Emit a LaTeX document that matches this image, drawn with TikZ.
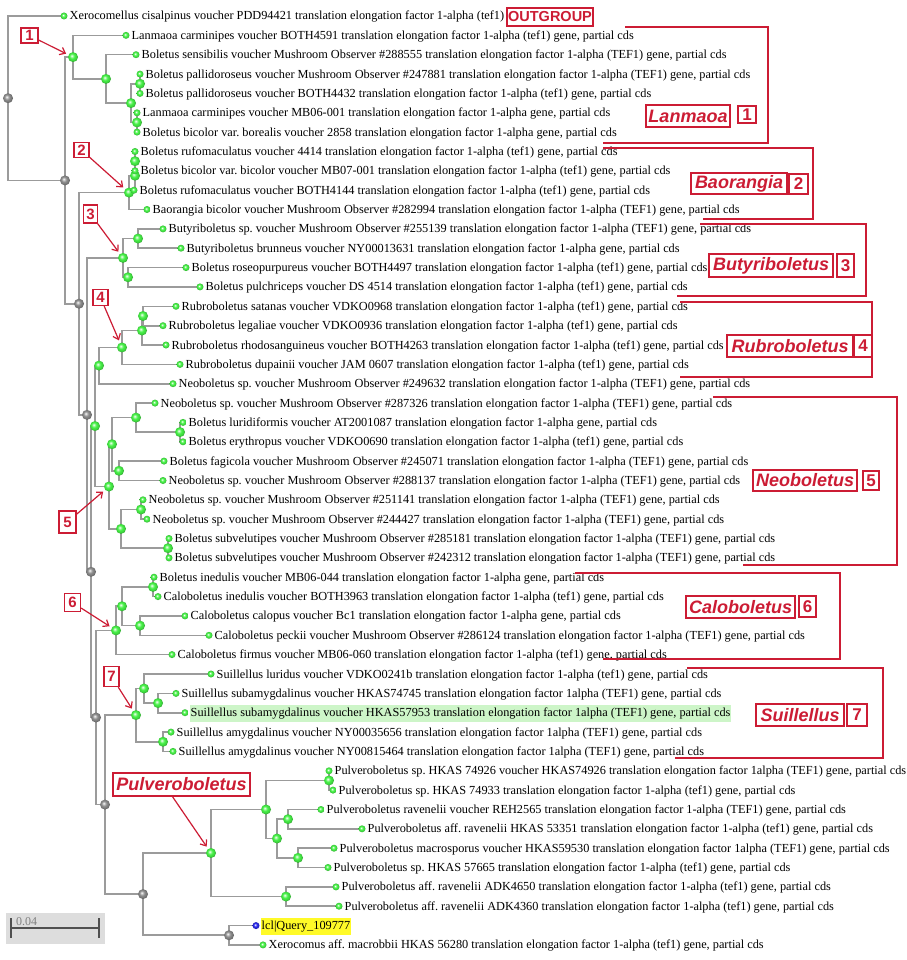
\documentclass[tikz,border=0pt]{standalone}
\usepackage{fontspec}
\setmainfont{Liberation Serif}
\newfontfamily\annfont{Liberation Sans}
\usetikzlibrary{arrows.meta,backgrounds}
\frenchspacing
\definecolor{annred}{RGB}{204,28,52}
\definecolor{brgray}{RGB}{155,155,155}
\definecolor{dotgreen}{RGB}{70,240,70}
\definecolor{dotgray}{RGB}{140,140,140}
\definecolor{hlgreen}{RGB}{205,245,200}
\definecolor{hlyellow}{RGB}{255,250,40}
\definecolor{qblue}{RGB}{40,40,235}
\definecolor{scalebg}{RGB}{221,221,221}
\definecolor{scalebar}{RGB}{80,80,80}
\pgfdeclareradialshading{gball}{\pgfpoint{-7bp}{7bp}}{color(0bp)=(white); color(6bp)=(dotgreen!55!white); color(13bp)=(dotgreen); color(21bp)=(dotgreen!88!black); color(25bp)=(dotgreen!72!black); color(50bp)=(dotgreen!72!black)}
\pgfdeclareradialshading{grball}{\pgfpoint{-7bp}{7bp}}{color(0bp)=(white); color(6bp)=(dotgray!55!white); color(13bp)=(dotgray); color(21bp)=(dotgray!85!black); color(25bp)=(dotgray!70!black); color(50bp)=(dotgray!70!black)}
\pgfdeclareradialshading{bball}{\pgfpoint{-7bp}{7bp}}{color(0bp)=(white); color(6bp)=(qblue!55!white); color(13bp)=(qblue); color(21bp)=(qblue!85!black); color(25bp)=(qblue!70!black); color(50bp)=(qblue!70!black)}
\tikzset{
  br/.style={draw=brgray, line width=1.6pt},
  lf/.style={circle, inner sep=0pt, minimum size=7pt, shading=gball},
  inn/.style={circle, inner sep=0pt, minimum size=10pt, shading=gball},
  gry/.style={circle, inner sep=0pt, minimum size=10pt, shading=grball},
  lab/.style={anchor=base west, inner sep=0pt, font=\fontsize{12.3}{14}\selectfont},
  hl/.style={inner xsep=1pt, inner ysep=2.5pt, text height=9pt, text depth=3pt},
  annbox/.style={draw=annred, line width=1.3pt, text=annred, inner sep=0pt},
  genus/.style={annbox, font=\annfont\bfseries\itshape\fontsize{18}{18}\selectfont},
  numb/.style={annbox, font=\annfont\bfseries\fontsize{17}{17}\selectfont},
  tnum/.style={annbox, font=\annfont\bfseries\fontsize{15}{15}\selectfont},
  annline/.style={draw=annred, line width=1.3pt},
  annarrow/.style={draw=annred, line width=1.2pt, -{Straight Barb[length=5pt,width=8pt]}, shorten >=2.5pt}
}
\newcommand\mkleaf[4]{\node[lf] (#1) at (#2,#3) {}; \node[lab] (t#1) at (#2+5.5,#3+4) {#4};}
\begin{document}
\begin{tikzpicture}[x=1pt,y=-1pt]
\useasboundingbox (0,0) rectangle (906,960);
% internal nodes
\foreach \n/\x/\y in {r/8/98.2, g1/65/180.4, g2/79/303.7, g3/87/414.85, g4/91/571.8, g5/96/717.5, g6/105/804.6, g7/143/894.1, g8/229/935.25}
  \node[gry] (\n) at (\x,\y) {};
\foreach \n/\x/\y in {L/73/57.1, L1/106/78.9, L2/131/103.1, L3/140/83.75, L4/137/122.45,
  Ba/129/192.6, Ba1/135/175.7, Ba2/135/161.15, B0/123/257.9, B01/138/238.55, B02/128/277.25,
  n0/95/426.05, R0/99/365.6, R/122/347.45, R1/142/330.5, R11/143/316,
  N5/109/486.5, N51/112/444.2, N511/136/417.6, N5111/180/432.1, N512/119/470.8,
  N52/121/528.85, N521/141/509.5, N522/168/548.2,
  C/116/630.4, C1/122/606.25, C11/153/586.9, C12/140/625.6,
  S/136/715.1, S1/144/688.5, S11/158/703.05, S2/163/741.75,
  P/211/853, P1/266/809.5, P11/329/780.45, P12/277/838.5, P121/288/819.15, P122/298/857.85, P2/286/896.55}
  \node[inn] (\n) at (\x,\y) {};
% leaves
\mkleaf{l1}{64}{16.0}{Xerocomellus cisalpinus voucher PDD94421 translation elongation factor 1-alpha (tef1)}
\mkleaf{l2}{126}{35.35}{Lanmaoa carminipes voucher BOTH4591 translation elongation factor 1-alpha (tef1) gene, partial cds}
\mkleaf{l3}{136}{54.7}{Boletus sensibilis voucher Mushroom Observer \#288555 translation elongation factor 1-alpha (TEF1) gene, partial cds}
\mkleaf{l4}{140}{74.1}{Boletus pallidoroseus voucher Mushroom Observer \#247881 translation elongation factor 1-alpha (TEF1) gene, partial cds}
\mkleaf{l5}{140}{93.4}{Boletus pallidoroseus voucher BOTH4432 translation elongation factor 1-alpha (tef1) gene, partial cds}
\mkleaf{l6}{137}{112.8}{Lanmaoa carminipes voucher MB06-001 translation elongation factor 1-alpha gene, partial cds}
\mkleaf{l7}{137}{132.1}{Boletus bicolor var. borealis voucher 2858 translation elongation factor 1-alpha gene, partial cds}
\mkleaf{l8}{135}{151.5}{Boletus rufomaculatus voucher 4414 translation elongation factor 1-alpha (tef1) gene, partial cds}
\mkleaf{l9}{135}{170.8}{Boletus bicolor var. bicolor voucher MB07-001 translation elongation factor 1-alpha (tef1) gene, partial cds}
\mkleaf{l10}{134}{190.2}{Boletus rufomaculatus voucher BOTH4144 translation elongation factor 1-alpha (tef1) gene, partial cds}
\mkleaf{l11}{147}{209.5}{Baorangia bicolor voucher Mushroom Observer \#282994 translation elongation factor 1-alpha (TEF1) gene, partial cds}
\mkleaf{l12}{163}{228.9}{Butyriboletus sp. voucher Mushroom Observer \#255139 translation elongation factor 1-alpha (TEF1) gene, partial cds}
\mkleaf{l13}{181}{248.2}{Butyriboletus brunneus voucher NY00013631 translation elongation factor 1-alpha gene, partial cds}
\mkleaf{l14}{186}{267.6}{Boletus roseopurpureus voucher BOTH4497 translation elongation factor 1-alpha (tef1) gene, partial cds}
\mkleaf{l15}{200}{286.9}{Boletus pulchriceps voucher DS 4514 translation elongation factor 1-alpha (tef1) gene, partial cds}
\mkleaf{l16}{176}{306.3}{Rubroboletus satanas voucher VDKO0968 translation elongation factor 1-alpha (tef1) gene, partial cds}
\mkleaf{l17}{163}{325.7}{Rubroboletus legaliae voucher VDKO0936 translation elongation factor 1-alpha (tef1) gene, partial cds}
\mkleaf{l18}{166}{345.0}{Rubroboletus rhodosanguineus voucher BOTH4263 translation elongation factor 1-alpha (tef1) gene, partial cds}
\mkleaf{l19}{180}{364.4}{Rubroboletus dupainii voucher JAM 0607 translation elongation factor 1-alpha (tef1) gene, partial cds}
\mkleaf{l20}{173}{383.7}{Neoboletus sp. voucher Mushroom Observer \#249632 translation elongation factor 1-alpha (TEF1) gene, partial cds}
\mkleaf{l21}{155}{403.1}{Neoboletus sp. voucher Mushroom Observer \#287326 translation elongation factor 1-alpha (TEF1) gene, partial cds}
\mkleaf{l22}{183}{422.4}{Boletus luridiformis voucher AT2001087 translation elongation factor 1-alpha gene, partial cds}
\mkleaf{l23}{183}{441.8}{Boletus erythropus voucher VDKO0690 translation elongation factor 1-alpha (tef1) gene, partial cds}
\mkleaf{l24}{164}{461.1}{Boletus fagicola voucher Mushroom Observer \#245071 translation elongation factor 1-alpha (TEF1) gene, partial cds}
\mkleaf{l25}{163}{480.5}{Neoboletus sp. voucher Mushroom Observer \#288137 translation elongation factor 1-alpha (TEF1) gene, partial cds}
\mkleaf{l26}{143}{499.8}{Neoboletus sp. voucher Mushroom Observer \#251141 translation elongation factor 1-alpha (TEF1) gene, partial cds}
\mkleaf{l27}{147}{519.2}{Neoboletus sp. voucher Mushroom Observer \#244427 translation elongation factor 1-alpha (TEF1) gene, partial cds}
\mkleaf{l28}{169}{538.5}{Boletus subvelutipes voucher Mushroom Observer \#285181 translation elongation factor 1-alpha (TEF1) gene, partial cds}
\mkleaf{l29}{169}{557.9}{Boletus subvelutipes voucher Mushroom Observer \#242312 translation elongation factor 1-alpha (TEF1) gene, partial cds}
\mkleaf{l30}{154}{577.2}{Boletus inedulis voucher MB06-044 translation elongation factor 1-alpha gene, partial cds}
\mkleaf{l31}{158}{596.6}{Caloboletus inedulis voucher BOTH3963 translation elongation factor 1-alpha (tef1) gene, partial cds}
\mkleaf{l32}{185}{615.9}{Caloboletus calopus voucher Bc1 translation elongation factor 1-alpha gene, partial cds}
\mkleaf{l33}{209}{635.3}{Caloboletus peckii voucher Mushroom Observer \#286124 translation elongation factor 1-alpha (TEF1) gene, partial cds}
\mkleaf{l34}{172}{654.6}{Caloboletus firmus voucher MB06-060 translation elongation factor 1-alpha (tef1) gene, partial cds}
\mkleaf{l35}{211}{674.0}{Suillellus luridus voucher VDKO0241b translation elongation factor 1-alpha (tef1) gene, partial cds}
\mkleaf{l36}{176}{693.4}{Suillellus subamygdalinus voucher HKAS74745 translation elongation factor 1alpha (TEF1) gene, partial cds}
\node[lf] (l37) at (185,712.7) {};
\node[lab, hl, fill=hlgreen] (tl37) at (189.5,716.7) {Suillellus subamygdalinus voucher HKAS57953 translation elongation factor 1alpha (TEF1) gene, partial cds};
\mkleaf{l38}{171}{732.1}{Suillellus amygdalinus voucher NY00035656 translation elongation factor 1alpha (TEF1) gene, partial cds}
\mkleaf{l39}{173}{751.4}{Suillellus amygdalinus voucher NY00815464 translation elongation factor 1alpha (TEF1) gene, partial cds}
\mkleaf{l40}{329}{770.8}{Pulveroboletus sp. HKAS 74926 voucher HKAS74926 translation elongation factor 1alpha (TEF1) gene, partial cds}
\mkleaf{l41}{333}{790.1}{Pulveroboletus sp. HKAS 74933 translation elongation factor 1-alpha (tef1) gene, partial cds}
\mkleaf{l42}{321}{809.5}{Pulveroboletus ravenelii voucher REH2565 translation elongation factor 1-alpha (TEF1) gene, partial cds}
\mkleaf{l43}{362}{828.8}{Pulveroboletus aff. ravenelii HKAS 53351 translation elongation factor 1-alpha (tef1) gene, partial cds}
\mkleaf{l44}{334}{848.2}{Pulveroboletus macrosporus voucher HKAS59530 translation elongation factor 1alpha (TEF1) gene, partial cds}
\mkleaf{l45}{328}{867.5}{Pulveroboletus sp. HKAS 57665 translation elongation factor 1-alpha (tef1) gene, partial cds}
\mkleaf{l46}{336}{886.9}{Pulveroboletus aff. ravenelii ADK4650 translation elongation factor 1-alpha (tef1) gene, partial cds}
\mkleaf{l47}{339}{906.2}{Pulveroboletus aff. ravenelii ADK4360 translation elongation factor 1-alpha (tef1) gene, partial cds}
\node[lf, shading=bball] (l48) at (256,925.6) {};
\node[lab, hl, fill=hlyellow] (tl48) at (260.5,929.6) {lcl|Query\_109777};
\mkleaf{l49}{263}{944.9}{Xerocomus aff. macrobbii HKAS 56280 translation elongation factor 1-alpha (tef1) gene, partial cds}
% branches
\begin{scope}[on background layer]
\fill[white] (0,0) rectangle (906,960);
\foreach \a/\b in {r/l1, r/g1, g1/L, g1/g2, L/l2, L/L1, L1/l3, L1/L2, L2/L3, L2/L4, L3/l4, L3/l5, L4/l6, L4/l7,
  g2/Ba, g2/g3, Ba/Ba1, Ba/l11, Ba1/Ba2, Ba1/l10, Ba2/l8, Ba2/l9,
  g3/B0, g3/g4, B0/B01, B0/B02, B01/l12, B01/l13, B02/l14, B02/l15,
  g4/n0, g4/g5, n0/R0, n0/N5, R0/R, R0/l20, R/R1, R/l19, R1/R11, R1/l18, R11/l16, R11/l17,
  N5/N51, N5/N52, N51/N511, N51/N512, N511/l21, N511/N5111, N5111/l22, N5111/l23, N512/l24, N512/l25,
  N52/N521, N52/N522, N521/l26, N521/l27, N522/l28, N522/l29,
  g5/C, g5/g6, C/C1, C/l34, C1/C11, C1/C12, C11/l30, C11/l31, C12/l32, C12/l33,
  g6/S, g6/g7, S/S1, S/S2, S1/l35, S1/S11, S11/l36, S11/l37, S2/l38, S2/l39,
  g7/P, g7/g8, P/P1, P/P2, P1/P11, P1/P12, P11/l40, P11/l41, P12/P121, P12/P122,
  P121/l42, P121/l43, P122/l44, P122/l45, P2/l46, P2/l47, g8/l48, g8/l49}
  \draw[br] (\a.center) |- (\b.center);
\end{scope}
% scale bar
\fill[scalebg] (6,913) rectangle (105,944);
\draw[scalebar, line width=2.2pt] (11,928) -- (99,928) (11,918) -- (11,938) (99,918) -- (99,938);
\node[anchor=base west, inner sep=0pt, text=gray, font=\fontsize{12}{12}\selectfont] (scl) at (16,925) {0.04};
% clade brackets
\draw[annline] (625,27) -- (768,27) -- (768,143) -- (603,143);
\draw[annline] (603,148) -- (813,148) -- (813,219) -- (703,219);
\draw[annline] (700,224) -- (866,224) -- (866,296) -- (677,296);
\draw[annline] (680,302) -- (872,302) -- (872,377) -- (680,377);
\draw[annline] (713,397) -- (897,397) -- (897,565) -- (743,565);
\draw[annline] (575,573) -- (840,573) -- (840,659) -- (603,659);
\draw[annline] (687,668) -- (883,668) -- (883,758) -- (675,758);
% genus labels
\node[annbox, font=\annfont\bfseries\fontsize{14.5}{14.5}\selectfont, minimum width=86pt, minimum height=18pt] (og) at (550,17) {OUTGROUP};
\node[genus, minimum width=84pt, minimum height=22pt] (gLan) at (688,116) {Lanmaoa};
\node[numb, minimum width=18pt, minimum height=17pt] (gn1) at (747,114.5) {1};
\node[genus, minimum width=96pt, minimum height=21pt] (gBao) at (739,183.5) {Baorangia};
\node[numb, minimum width=19pt, minimum height=20pt] (gn2) at (798.5,184) {2};
\node[genus, minimum width=124pt, minimum height=23pt] (gBut) at (771,265.5) {Butyriboletus};
\node[numb, minimum width=17pt, minimum height=23pt] (gn3) at (845.5,265.5) {3};
\node[genus, minimum width=126pt, minimum height=22pt] (gRub) at (790,346) {Rubroboletus};
\node[numb, minimum width=18pt, minimum height=22pt] (gn4) at (863,346) {4};
\node[genus, minimum width=104pt, minimum height=21pt] (gNeo) at (805,480.5) {Neoboletus};
\node[numb, minimum width=16pt, minimum height=19pt] (gn5) at (871,480.5) {5};
\node[genus, minimum width=109pt, minimum height=22pt] (gCal) at (740.5,607) {Caloboletus};
\node[numb, minimum width=17pt, minimum height=21pt] (gn6) at (807.5,606.5) {6};
\node[genus, minimum width=88pt, minimum height=22pt] (gSui) at (800,715) {Suillellus};
\node[numb, minimum width=20pt, minimum height=22pt] (gn7) at (857,715) {7};
\node[genus, minimum width=137pt, minimum height=23pt] (gPul) at (181.5,784.5) {Pulveroboletus};
% tree number boxes and arrows
\node[tnum, minimum width=17pt, minimum height=15pt] (t1) at (29.5,35.5) {1};
\node[tnum, minimum width=15pt, minimum height=15pt] (t2) at (81.5,150) {2};
\node[tnum, minimum width=14pt, minimum height=18pt] (t3) at (90.5,214) {3};
\node[tnum, minimum width=15pt, minimum height=16pt] (t4) at (100.5,297.5) {4};
\node[tnum, minimum width=17pt, minimum height=22pt] (t5) at (67.5,522) {5};
\node[tnum, minimum width=16pt, minimum height=18pt] (t6) at (72.5,602.5) {6};
\node[tnum, minimum width=15pt, minimum height=20pt] (t7) at (111.5,676.5) {7};
\draw[annarrow] (t1) -- (L);
\draw[annarrow] (t2) -- (Ba);
\draw[annarrow] (t3) -- (B0);
\draw[annarrow] (t4) -- (R);
\draw[annarrow] (t5) -- (N5);
\draw[annarrow] (t6) -- (C);
\draw[annarrow] (t7) -- (S);
\draw[annarrow] ([xshift=-9pt]gPul.south) -- (P);
\end{tikzpicture}
\end{document}
